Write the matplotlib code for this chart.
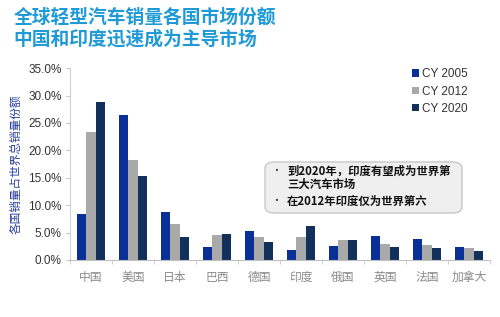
import numpy as np
import matplotlib.pyplot as plt
from matplotlib.patches import FancyBboxPatch
from matplotlib.ticker import FuncFormatter

plt.rcParams['font.family'] = ['Noto Sans CJK SC', 'DejaVu Sans']

# Market share of world light-vehicle sales (%)
countries = ['中国', '美国', '日本', '巴西', '德国', '印度', '俄国', '英国', '法国', '加拿大']
share_2005 = [8.4, 26.4, 8.8, 2.4, 5.3, 1.8, 2.5, 4.3, 3.8, 2.4]
share_2012 = [23.4, 18.2, 6.6, 4.5, 4.1, 4.1, 3.6, 2.9, 2.8, 2.1]
share_2020 = [28.9, 15.4, 4.1, 4.7, 3.2, 6.2, 3.6, 2.3, 2.2, 1.6]
series_labels = ['CY 2005', 'CY 2012', 'CY 2020']
colors = ['#0a2f96', '#a9a9a9', '#13305a']

fig = plt.figure(figsize=(5.0, 3.17), dpi=100)
ax = fig.add_axes([0.14, 0.18, 0.84, 0.605])

x = np.arange(len(countries))
w = 0.22
for i, (vals, lab, c) in enumerate(zip([share_2005, share_2012, share_2020], series_labels, colors)):
    ax.bar(x + (i - 1) * w, vals, w, color=c, label=lab)

ax.set_xlim(-0.5, len(countries) - 0.5)
ax.set_ylim(0, 35)
ax.set_yticks(np.arange(0, 36, 5))
ax.yaxis.set_major_formatter(FuncFormatter(lambda v, p: f'{v:.1f}%'))
ax.tick_params(axis='y', labelsize=8.5, colors='#c8c8c8', labelcolor='#333333',
               length=3, pad=3)
for t in ax.get_yticklabels():
    t.set_family(['Liberation Sans', 'DejaVu Sans'])

ax.set_xticks(x)
ax.set_xticklabels(countries, fontsize=8.5, color='#8a8a8a')
ax.tick_params(axis='x', length=0, pad=8)
ax.set_xticks(np.arange(-0.5, len(countries), 1), minor=True)
ax.tick_params(axis='x', which='minor', length=3, colors='#c8c8c8')

for s in ['top', 'right']:
    ax.spines[s].set_visible(False)
ax.spines['left'].set_color('#d0d0d0')
ax.spines['bottom'].set_color('#c0c0c0')

ax.set_ylabel('各国销量占世界总销量份额', fontsize=8.4, color='#2a3fa0', labelpad=4)

leg = ax.legend(loc='upper left', bbox_to_anchor=(0.79, 1.055), frameon=False,
                fontsize=8.5, handlelength=0.55, handleheight=0.55,
                handletextpad=0.3, labelspacing=0.45)
for t in leg.get_texts():
    t.set_family(['Liberation Sans', 'DejaVu Sans'])
    t.set_color('#333333')

# Annotation box
box = FancyBboxPatch((0.53, 0.328), 0.394, 0.161, transform=fig.transFigure,
                     boxstyle='round,pad=0,rounding_size=0.02',
                     facecolor='#efefef', edgecolor='#c8c8c8', linewidth=1)
fig.patches.append(box)
fig.text(0.543, 0.46, '•', fontsize=7, color='#222222', va='center')
fig.text(0.574, 0.46, '到2020年，印度有望成为世界第', fontsize=8.2, color='#111111',
         va='center', fontweight='bold')
fig.text(0.574, 0.418, '三大汽车市场', fontsize=8.2, color='#111111',
         va='center', fontweight='bold')
fig.text(0.543, 0.366, '•', fontsize=7, color='#222222', va='center')
fig.text(0.574, 0.366, '在2012年印度仅为世界第六', fontsize=8.2, color='#111111',
         va='center', fontweight='bold')

# Title
fig.text(0.027, 0.945, '全球轻型汽车销量各国市场份额', fontsize=13.5, color='#1f9ad6',
         fontweight='bold', va='center')
fig.text(0.027, 0.878, '中国和印度迅速成为主导市场', fontsize=13.5, color='#1f9ad6',
         fontweight='bold', va='center')

fig.savefig('out.png', dpi=100)
